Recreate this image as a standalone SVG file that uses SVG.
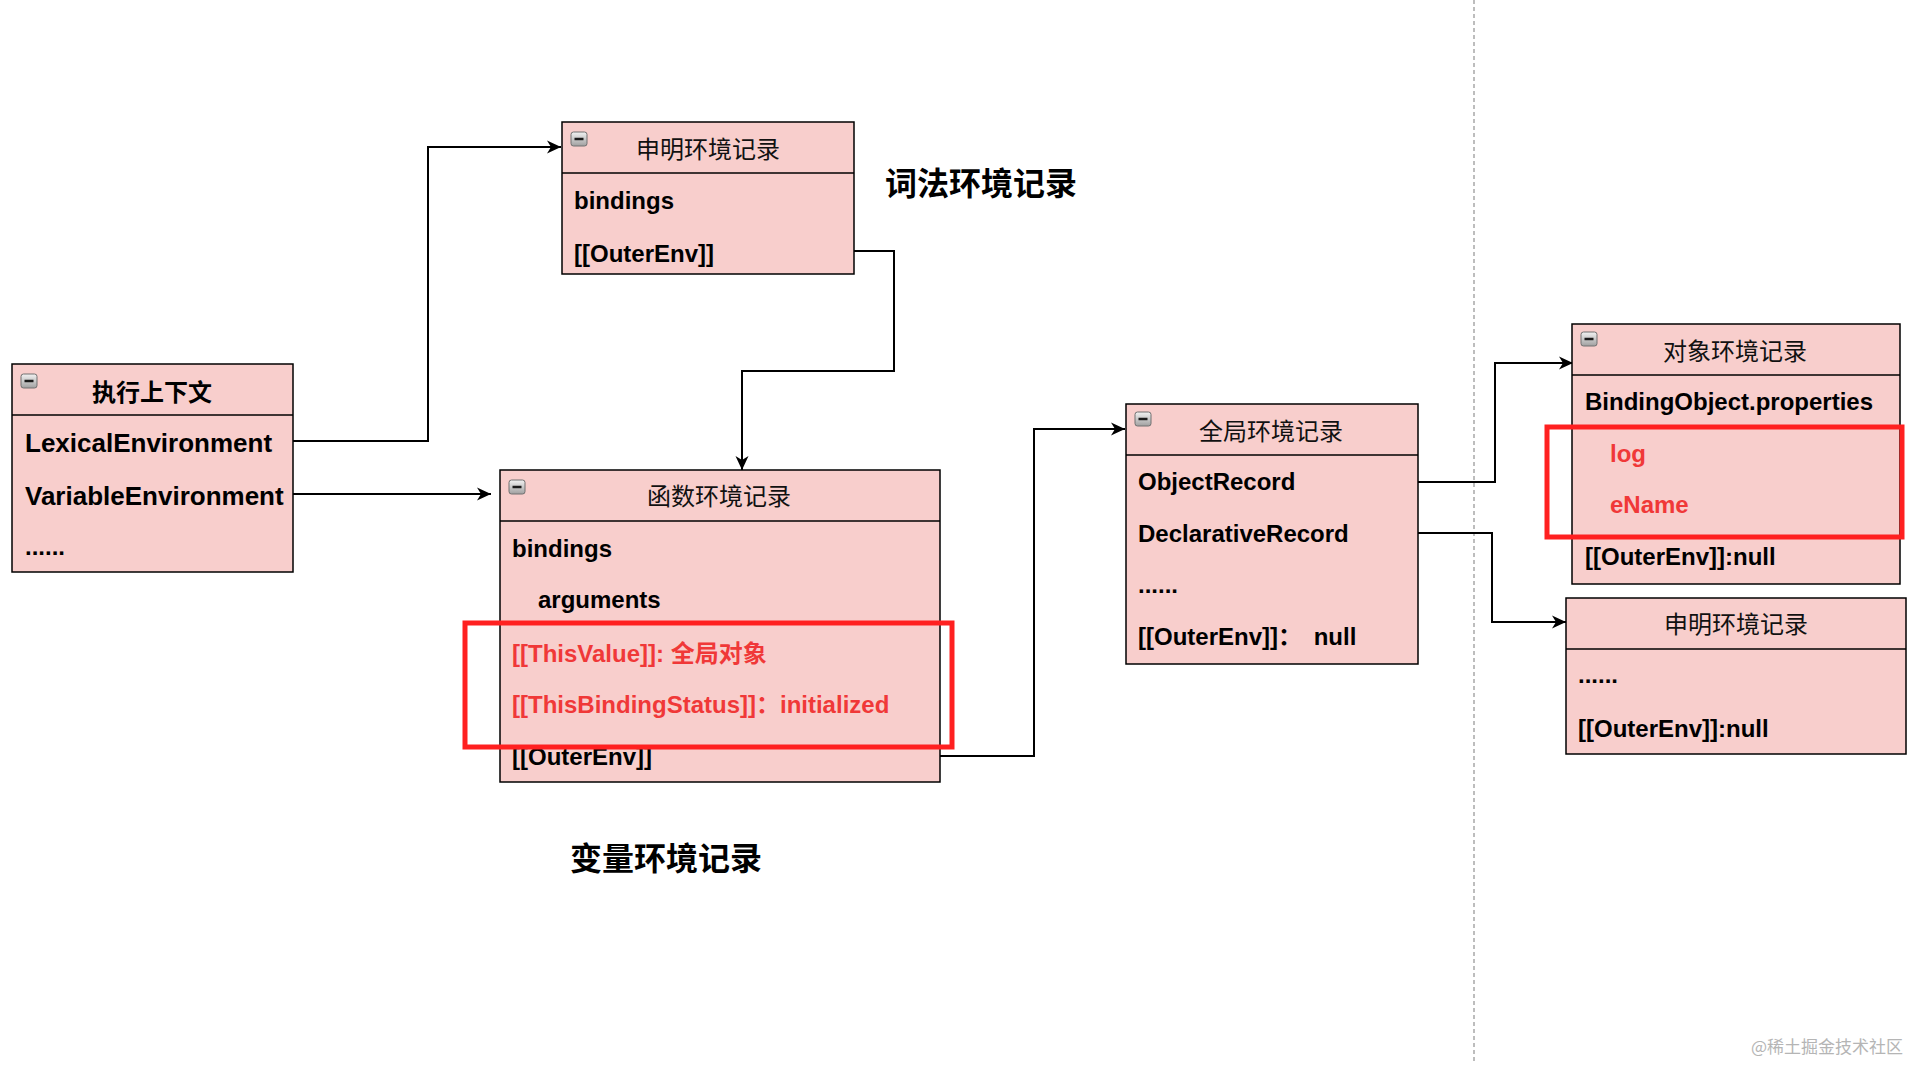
<svg xmlns="http://www.w3.org/2000/svg" width="1917" height="1065" viewBox="0 0 1917 1065">
<style>
  .box{fill:#f8cecc;stroke:#000;stroke-width:1.5}
  .hdr{fill:none;stroke:#000;stroke-width:1.5}
  .t{font-family:"Liberation Sans","Noto Sans CJK SC",sans-serif;font-size:24px;font-weight:bold;fill:#000}
  .t26{font-size:26px}
  .red{fill:#f03838}
  .title{font-family:"Liberation Sans","Noto Sans CJK SC",sans-serif;font-size:24px;fill:#111;text-anchor:middle}
  .big{font-family:"Liberation Sans","Noto Sans CJK SC",sans-serif;font-size:32px;font-weight:bold;fill:#000}
  .hl{fill:none;stroke:#ff2020;stroke-width:5}
  .conn{fill:none;stroke:#000;stroke-width:2}
</style>
<defs>
  <linearGradient id="ig" x1="0" y1="0" x2="0" y2="1">
    <stop offset="0" stop-color="#f2f2f2"/>
    <stop offset="1" stop-color="#a0a0a0"/>
  </linearGradient>
  <g id="minus">
    <rect x="0" y="0" width="16" height="14" rx="2.5" fill="url(#ig)" stroke="#707070" stroke-width="1"/>
    <line x1="3.5" y1="7" x2="12.5" y2="7" stroke="#1a1a1a" stroke-width="2.5"/>
  </g>
  <marker id="arr" markerUnits="userSpaceOnUse" markerWidth="16" markerHeight="14" refX="14" refY="7" orient="auto">
    <path d="M0,0.5 L14,7 L0,13.5 L4,7 z" fill="#000"/>
  </marker>
</defs>
<rect width="1917" height="1065" fill="#fff"/>

<line x1="1474" y1="0" x2="1474" y2="1062" stroke="#bdbdbd" stroke-width="2" stroke-dasharray="4 3"/>

<g id="connectors">
  <path class="conn" d="M293,441 H428 V147 H561" marker-end="url(#arr)"/>
  <path class="conn" d="M293,494 H491" marker-end="url(#arr)"/>
  <path class="conn" d="M854,251 H894 V371 H742 V470" marker-end="url(#arr)"/>
  <path class="conn" d="M940,756 H1034 V429 H1125" marker-end="url(#arr)"/>
  <path class="conn" d="M1418,482 H1495 V363 H1573" marker-end="url(#arr)"/>
  <path class="conn" d="M1418,533 H1492 V622 H1566" marker-end="url(#arr)"/>
</g>

<g id="node-exec">
  <rect class="box" x="12" y="364" width="281" height="208"/>
  <line class="hdr" x1="12" y1="415" x2="293" y2="415"/>
  <use href="#minus" x="21" y="374"/>
  <text class="t" x="152" y="401" text-anchor="middle">执行上下文</text>
  <text class="t t26" x="25" y="452">LexicalEnvironment</text>
  <text class="t t26" x="25" y="505">VariableEnvironment</text>
  <text class="t" x="25" y="555">......</text>
</g>

<g id="node-decl-top">
  <rect class="box" x="562" y="122" width="292" height="152"/>
  <line class="hdr" x1="562" y1="173" x2="854" y2="173"/>
  <use href="#minus" x="571" y="132"/>
  <text class="title" x="708" y="158">申明环境记录</text>
  <text class="t" x="574" y="209">bindings</text>
  <text class="t" x="574" y="262">[[OuterEnv]]</text>
</g>

<g id="node-func">
  <rect class="box" x="500" y="470" width="440" height="312"/>
  <line class="hdr" x1="500" y1="521" x2="940" y2="521"/>
  <use href="#minus" x="509" y="480"/>
  <text class="title" x="719" y="505">函数环境记录</text>
  <text class="t" x="512" y="557">bindings</text>
  <text class="t" x="538" y="608">arguments</text>
  <text class="t red" x="512" y="662">[[ThisValue]]: 全局对象</text>
  <text class="t red" x="512" y="713">[[ThisBindingStatus]]：initialized</text>
  <text class="t" x="512" y="765">[[OuterEnv]]</text>
  <rect class="hl" x="465" y="623" width="487" height="124"/>
</g>

<g id="node-global">
  <rect class="box" x="1126" y="404" width="292" height="260"/>
  <line class="hdr" x1="1126" y1="455" x2="1418" y2="455"/>
  <use href="#minus" x="1135" y="412"/>
  <text class="title" x="1271" y="440">全局环境记录</text>
  <text class="t" x="1138" y="490">ObjectRecord</text>
  <text class="t" x="1138" y="542">DeclarativeRecord</text>
  <text class="t" x="1138" y="593">......</text>
  <text class="t" x="1138" y="645">[[OuterEnv]]： <tspan dx="5">null</tspan></text>
</g>

<g id="node-object">
  <rect class="box" x="1572" y="324" width="328" height="260"/>
  <line class="hdr" x1="1572" y1="375" x2="1900" y2="375"/>
  <use href="#minus" x="1581" y="332"/>
  <text class="title" x="1735" y="360">对象环境记录</text>
  <text class="t" x="1585" y="410">BindingObject.properties</text>
  <text class="t red" x="1610" y="462">log</text>
  <text class="t red" x="1610" y="513">eName</text>
  <text class="t" x="1585" y="565">[[OuterEnv]]:null</text>
  <rect class="hl" x="1547" y="427" width="355" height="110"/>
</g>

<g id="node-decl-right">
  <rect class="box" x="1566" y="598" width="340" height="156"/>
  <line class="hdr" x1="1566" y1="649" x2="1906" y2="649" stroke-width="2.5"/>
  <text class="title" x="1736" y="633">申明环境记录</text>
  <text class="t" x="1578" y="683">......</text>
  <text class="t" x="1578" y="737">[[OuterEnv]]:null</text>
</g>

<g id="label-lexical">
  <text class="big" x="885" y="195">词法环境记录</text>
</g>
<g id="label-variable">
  <text class="big" x="570" y="870">变量环境记录</text>
</g>

<text x="1751" y="1053" font-family="'Noto Sans CJK SC',sans-serif" font-size="17" fill="#b5b5b5">@稀土掘金技术社区</text>
</svg>
